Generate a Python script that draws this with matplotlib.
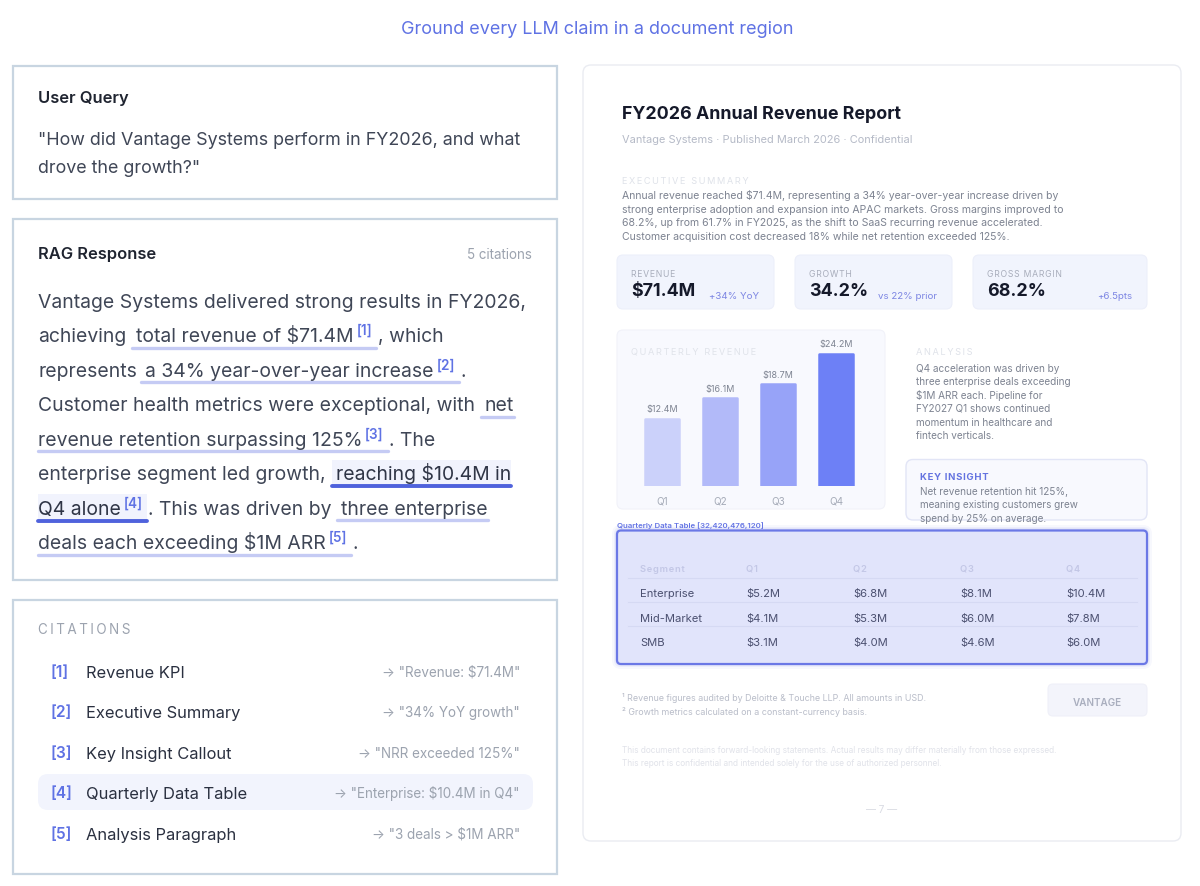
import matplotlib
matplotlib.use("Agg")
import matplotlib.pyplot as plt
from matplotlib.patches import FancyBboxPatch

plt.rcParams['font.family'] = ['Inter', 'DejaVu Sans']

# data
quarters = ["Q1", "Q2", "Q3", "Q4"]
revenue = [12.4, 16.1, 18.7, 24.2]
revenue_labels = ["$12.4M", "$16.1M", "$18.7M", "$24.2M"]

table_head = ["Segment", "Q1", "Q2", "Q3", "Q4"]
table_rows = [
    ["Enterprise", "$5.2M", "$6.8M", "$8.1M", "$10.4M"],
    ["Mid-Market", "$4.1M", "$5.3M", "$6.0M", "$7.8M"],
    ["SMB", "$3.1M", "$4.0M", "$4.6M", "$6.0M"],
]

kpi_labels = ["REVENUE", "GROWTH", "GROSS MARGIN"]
kpi_values = ["$71.4M", "34.2%", "68.2%"]
kpi_deltas = ["+34% YoY", "vs 22% prior", "+6.5pts"]

cite_ids = ["[1]", "[2]", "[3]", "[4]", "[5]"]
cite_names = ["Revenue KPI", "Executive Summary", "Key Insight Callout",
              "Quarterly Data Table", "Analysis Paragraph"]
cite_quotes = ['→ "Revenue: $71.4M"', '→ "34% YoY growth"', '→ "NRR exceeded 125%"',
               '→ "Enterprise: $10.4M in Q4"', '→ "3 deals > $1M ARR"']

summary = ["Annual revenue reached $71.4M, representing a 34% year-over-year increase driven by",
           "strong enterprise adoption and expansion into APAC markets. Gross margins improved to",
           "68.2%, up from 61.7% in FY2025, as the shift to SaaS recurring revenue accelerated.",
           "Customer acquisition cost decreased 18% while net retention exceeded 125%."]
analysis = ["Q4 acceleration was driven by", "three enterprise deals exceeding",
            "$1M ARR each. Pipeline for", "FY2027 Q1 shows continued",
            "momentum in healthcare and", "fintech verticals."]
insight = ["Net revenue retention hit 125%,", "meaning existing customers grew",
           "spend by 25% on average."]
footnotes = ["¹ Revenue figures audited by Deloitte & Touche LLP. All amounts in USD.",
             "² Growth metrics calculated on a constant-currency basis."]
disclaimer = ["This document contains forward-looking statements. Actual results may differ materially from those expressed.",
              "This report is confidential and intended solely for the use of authorized personnel."]

W, H = 1200, 887
BLUE = "#5f72e4"
BODY = "#3f4656"
GREY = "#9ca3af"
SOFT = "#c5cbf4"
DARK = "#4f62dc"

fig = plt.figure(figsize=(W / 100, H / 100), dpi=100, facecolor="white")
ax = fig.add_axes([0, 0, 1, 1])
ax.set_xlim(0, W)
ax.set_ylim(H, 0)
ax.axis("off")


def txt(x, y, s, px, color=BODY, weight="normal", ha="left"):
    ax.text(x, y, s, fontsize=px * 0.72, color=color, fontweight=weight, ha=ha, va="baseline", zorder=4)


def box(x0, y0, x1, y1, face="white", edge="none", lw=1.0, r=0, z=1, alpha=None):
    style = "round,pad=0,rounding_size=%g" % r if r else "square,pad=0"
    ax.add_patch(FancyBboxPatch((x0, y0), x1 - x0, y1 - y0, boxstyle=style, fc=face, ec=edge,
                                lw=lw, zorder=z, alpha=alpha))


def spaced(s, gap="\u200a"):
    return gap.join(s)


txt(597, 34, "Ground every LLM claim in a document region", 18, BLUE, ha="center")

# left panels
PANEL = "#c8d5e1"
box(13, 66.5, 557, 200, edge=PANEL, lw=1.6)
box(13, 219.5, 557, 581, edge=PANEL, lw=1.6)
box(13, 601, 557, 875, edge=PANEL, lw=1.6)

txt(38, 103, "User Query", 16.5, "#1f2430", "semibold")
txt(38, 145, '"How did Vantage Systems perform in FY2026, and what', 17.9)
txt(38, 173, 'drove the growth?"', 17.9)

txt(38, 259, "RAG Response", 16.5, "#1f2430", "semibold")
txt(532, 259, "5 citations", 13.4, GREY, ha="right")

# response text, highlights first so the text sits on top
box(332, 461, 511, 486, face="#f1f3fd", z=1)
box(38, 495, 147, 520, face="#f1f3fd", z=1)
for x0, x1, y, c, lw in [(132, 376, 349, SOFT, 2.4), (141, 459, 383, SOFT, 2.4),
                         (481, 514, 418, SOFT, 2.4), (38, 388, 452, SOFT, 2.4),
                         (332, 511, 487, DARK, 2.8), (38, 147, 522, DARK, 2.8),
                         (337, 488, 521, SOFT, 2.4), (38, 351, 556, SOFT, 2.4)]:
    ax.plot([x0, x1], [y, y], color=c, lw=lw, solid_capstyle="round", zorder=2)

BODY_PX = 19.35
txt(38, 308, "Vantage Systems delivered strong results in FY2026,", BODY_PX)
txt(38, 342, "achieving", BODY_PX)
txt(136, 342, "total revenue of $71.4M", BODY_PX)
txt(378, 342, ", which", BODY_PX)
txt(38, 377, "represents", BODY_PX)
txt(145, 377, "a 34% year-over-year increase", BODY_PX)
txt(460, 377, ".", BODY_PX)
txt(38, 411, "Customer health metrics were exceptional, with", BODY_PX)
txt(485, 411, "net", BODY_PX)
txt(38, 446, "revenue retention surpassing 125%", BODY_PX)
txt(389, 446, ". The", BODY_PX)
txt(38, 480, "enterprise segment led growth,", BODY_PX)
txt(336, 480, "reaching $10.4M in", BODY_PX, "#2f3546")
txt(38, 515, "Q4 alone", BODY_PX, "#2f3546")
txt(148, 515, ". This was driven by", BODY_PX)
txt(341, 515, "three enterprise", BODY_PX)
txt(38, 549, "deals each exceeding $1M ARR", BODY_PX)
txt(352, 549, ".", BODY_PX)
for x, y, s in [(357, 335, "[1]"), (437, 370, "[2]"), (365, 439, "[3]"), (124, 508, "[4]"), (329, 542, "[5]")]:
    txt(x, y, s, 13.5, BLUE, "semibold")

# citations
txt(38, 634, spaced("CITATIONS", "\u2009"), 13.5, GREY)
box(38, 775, 533, 811, face="#f2f4fd", r=10)
for y, cid, name, quote in zip([672, 712, 753, 793, 834], cite_ids, cite_names, cite_quotes):
    txt(50, y + 5.5, cid, 15.5, BLUE, "semibold")
    txt(86, y + 6, name, 16.5, "#2a3040")
    txt(520, y + 5, quote, 13.5, GREY, ha="right")

# report page
box(583, 66, 1181, 842, edge="#eaecf2", lw=1.0, r=8)
txt(622, 119, "FY2026 Annual Revenue Report", 17.8, "#15192a", "bold")
txt(622, 143, "Vantage Systems · Published March 2026 · Confidential", 11, "#b5bac7")
txt(622, 184, spaced("EXECUTIVE SUMMARY", "\u2009"), 9.2, "#dfe2e9")
for y, line in zip([199, 213, 226, 240], summary):
    txt(622, y, line, 10.5, "#7d8391")

# kpi cards
for x0, x1, label, val, delta in zip([617, 795, 973], [774, 952, 1147], kpi_labels, kpi_values, kpi_deltas):
    box(x0, 256, x1, 310, face="#f1f4fd", edge="#eceffa", lw=0.8, r=6)
    txt(x0 + 14, 277, spaced(label), 8.7, "#a8adbb")
    txt(x0 + 14, 296, val, 17.9, "#15192a", "bold")
    txt(x1 - 15, 299, delta, 9.7, "#7c85e3", ha="right")

# quarterly chart panel
box(617, 331, 885, 510, face="#f8f9fe", edge="#f1f2f9", lw=0.8, r=6)
txt(631, 355, spaced("QUARTERLY REVENUE", "\u2009"), 9.2, "#e0e3ea")

bar_ax = fig.add_axes([617 / W, 1 - 487 / H, 268 / W, 156 / H])
bar_ax.patch.set_visible(False)
bar_colors = ["#cbd1fa", "#b2baf9", "#97a3f8", "#6d80f6"]
bars = bar_ax.bar(range(4), revenue, width=0.6, color=bar_colors, edgecolor=bar_colors,
                  linewidth=1.8, joinstyle="round")
bar_ax.set_xlim(-0.776, 3.845)
bar_ax.set_ylim(0.18, 0.18 + 156 / 5.5)
bar_ax.set_xticks(range(4), quarters, fontsize=7.2, color="#a5abb8")
bar_ax.set_yticks([])
bar_ax.tick_params(axis="x", length=0, pad=7)
for s in bar_ax.spines.values():
    s.set_visible(False)
bar_ax.bar_label(bars, labels=revenue_labels, fontsize=6.5, color="#7d8391", padding=4)

# analysis and key insight
txt(916, 355, spaced("ANALYSIS", "\u2009"), 9.2, "#dfe2e9")
for y, line in zip([372, 385, 399, 412, 426, 439], analysis):
    txt(916, y, line, 10, "#7d8391")
box(906, 460.5, 1147, 521, face="#f8f9fe", edge="#e2e5f6", lw=1.0, r=7)
txt(920, 480, spaced("KEY INSIGHT"), 9.5, "#6473e0", "bold")
for y, line in zip([495, 508, 522], insight):
    txt(920, y, line, 9.95, "#7d8391")

# highlighted table
txt(617, 528, "Quarterly Data Table [32,420,476,120]", 7.8, "#6474e4", "semibold")
for grow, a in [(5, 0.05), (3, 0.08), (1.5, 0.12)]:
    box(617 - grow, 531 - grow, 1147 + grow, 665 + grow, face="#6b78e6", r=4 + grow, z=1, alpha=a)
box(617, 531.5, 1147, 665, face="#e1e4fb", edge="#6b78e6", lw=1.6, r=4, z=2)
col_x = [640, 746, 853, 960, 1066]
for x, h in zip(col_x, table_head):
    txt(x, 572, spaced(h), 9.3, "#c3c7e6", "semibold")
for y in [578.5, 603, 627]:
    ax.plot([628, 1137], [y, y], color="#d5d9f3", lw=0.8, zorder=3)
for y, row in zip([597, 622, 646], table_rows):
    for x, cell in zip(col_x, row):
        txt(x, y, cell, 11.2, "#4b5070")

# footer bits
for y, line in zip([701, 715], footnotes):
    txt(622, y, line, 8.9, "#b9bdc9")
box(1048, 685, 1147, 717, face="#f3f4fb", edge="#eff0f8", lw=0.8, r=5)
txt(1097, 706, "VANTAGE", 9.9, "#a9aebe", "semibold", ha="center")
for y, line in zip([753, 766], disclaimer):
    txt(622, y, line, 8.3, "#e0e2e9")
txt(882, 813, "— 7 —", 10, "#d9dbe3", ha="center")

fig.savefig("out.png", dpi=100)
